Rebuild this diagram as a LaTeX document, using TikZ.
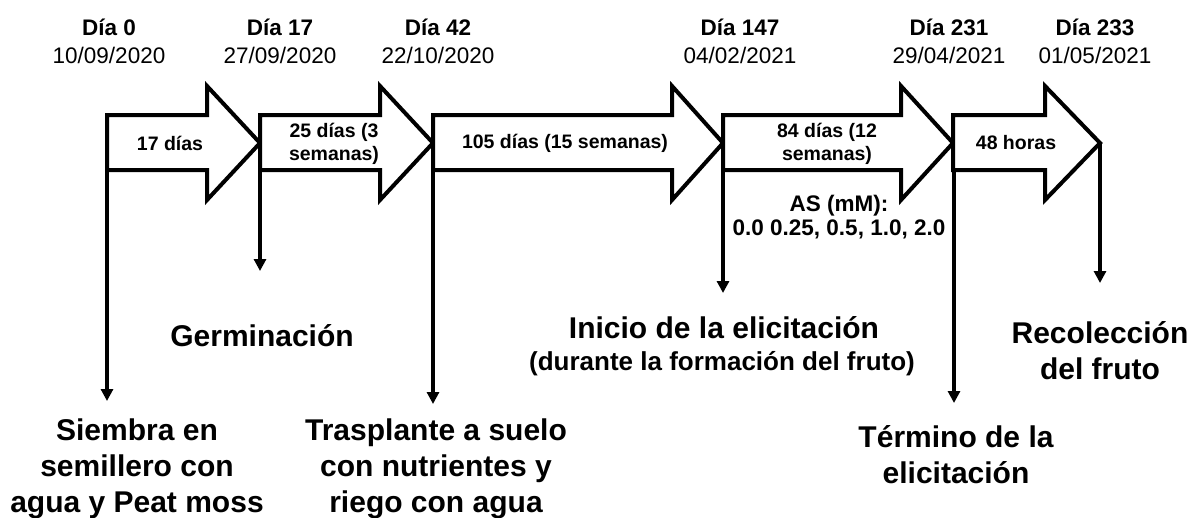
\documentclass[tikz,border=0pt]{standalone}
\usepackage{fontspec}
\setmainfont{Liberation Sans}
\usetikzlibrary{arrows.meta}
\begin{document}
\begin{tikzpicture}[x=1pt,y=-1pt,
  bigarrow/.style={draw=black, line width=4pt, fill=white, line join=miter},
  conn/.style={draw=black, line width=3.3pt, -{Triangle[width=12pt,length=12pt]}},
  daylbl/.style={align=center, inner sep=0pt, font=\fontsize{22.5}{28}\selectfont},
  innerlbl/.style={align=center, inner sep=0pt, font=\bfseries\fontsize{19.5}{23}\selectfont},
  aslbl/.style={align=center, inner sep=0pt, font=\bfseries\fontsize{22.5}{23.5}\selectfont},
  biglbl/.style={align=center, inner sep=0pt, font=\bfseries\fontsize{30}{36}\selectfont},
  sublbl/.style={align=center, inner sep=0pt, font=\bfseries\fontsize{26}{32}\selectfont}]
\useasboundingbox (0,0) rectangle (1190,517);

% big timeline arrows
\draw[bigarrow] (107,115) -- (207,115) -- (207,86) -- (260,143) -- (207,200) -- (207,170) -- (107,170) -- cycle;
\draw[bigarrow] (260,115) -- (380,115) -- (380,86) -- (433,143) -- (380,200) -- (380,170) -- (260,170) -- cycle;
\draw[bigarrow] (433,115) -- (672,115) -- (672,86) -- (723,143) -- (672,200) -- (672,170) -- (433,170) -- cycle;
\draw[bigarrow] (723,115) -- (901,115) -- (901,86) -- (953,143) -- (901,200) -- (901,170) -- (723,170) -- cycle;
\draw[bigarrow] (953,115) -- (1045,115) -- (1045,86) -- (1100,143) -- (1045,200) -- (1045,170) -- (953,170) -- cycle;

% connector start and end points
\coordinate (s1) at (107,170);
\coordinate (s2) at (260,170);
\coordinate (s3) at (433,170);
\coordinate (s4) at (723,170);
\coordinate (s5) at (954,170);
\coordinate (s6) at (1100,143);
\coordinate (e1) at (107,401);
\coordinate (e2) at (260,271);
\coordinate (e3) at (433,404);
\coordinate (e4) at (723,293);
\coordinate (e5) at (954,403);
\coordinate (e6) at (1100,283);

\draw[conn] (s1) -- (e1);
\draw[conn] (s2) -- (e2);
\draw[conn] (s3) -- (e3);
\draw[conn] (s4) -- (e4);
\draw[conn] (s5) -- (e5);
\draw[conn] (s6) -- (e6);

% top day labels
\node[daylbl] (d0)   at (109,41)  {\textbf{Día 0}\\10/09/2020};
\node[daylbl] (d17)  at (280,41)  {\textbf{Día 17}\\27/09/2020};
\node[daylbl] (d42)  at (438,41)  {\textbf{Día 42}\\22/10/2020};
\node[daylbl] (d147) at (740,41)  {\textbf{Día 147}\\04/02/2021};
\node[daylbl] (d231) at (949,41)  {\textbf{Día 231}\\29/04/2021};
\node[daylbl] (d233) at (1095,41) {\textbf{Día 233}\\01/05/2021};

% labels inside arrows
\node[innerlbl] (t1) at (170,143)  {17 días};
\node[innerlbl] (t2) at (334,144)  {25 días (3\\semanas)};
\node[innerlbl] (t3) at (565,143)  {105 días (15 semanas)};
\node[innerlbl] (t4) at (827,144)  {84 días (12\\semanas)};
\node[innerlbl] (t5) at (1016,143) {48 horas};
\node[aslbl]    (as) at (839,217)  {AS (mM):\\0.0 0.25, 0.5, 1.0, 2.0};

% event labels
\node[biglbl] (siembra) at (137,469) {Siembra en\\semillero con\\agua y Peat moss};
\node[biglbl] (germ)    at (262,336) {Germinación};
\node[biglbl] (trasp)   at (436,469) {Trasplante a suelo\\con nutrientes y\\riego con agua};
\node[biglbl] (inicio)  at (724,328) {Inicio de la elicitación};
\node[sublbl] (inicio2) at (722,364) {(durante la formación del fruto)};
\node[biglbl] (termino) at (956,455) {Término de la\\elicitación};
\node[biglbl] (recol)   at (1100,351) {Recolección\\del fruto};
\end{tikzpicture}
\end{document}
